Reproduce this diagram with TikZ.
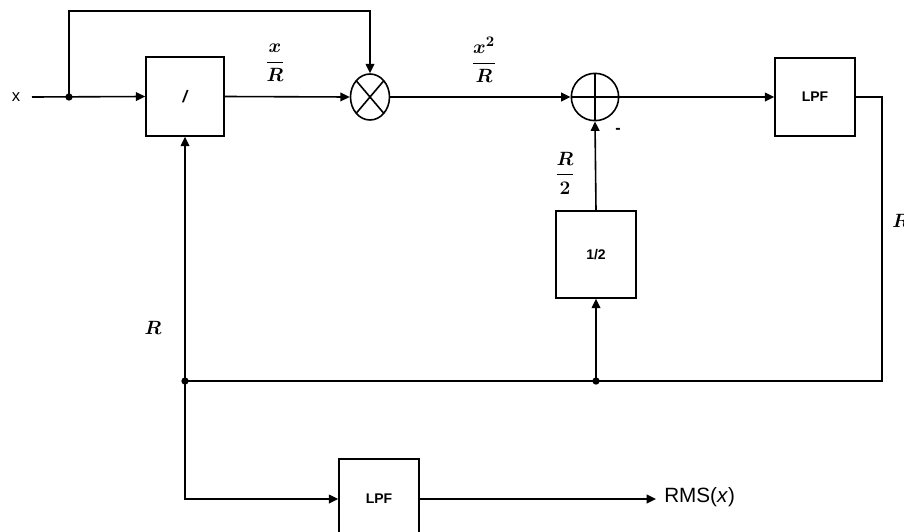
\documentclass[tikz,border=0pt]{standalone}
\usepackage{amsmath}
\usepackage{fontspec}
\setmainfont{Liberation Sans}
\usetikzlibrary{arrows.meta,calc,shapes.geometric}
\tikzset{
  blk/.style={draw, line width=1.2pt, inner sep=0pt, font=\fontsize{10.5}{12}\selectfont\bfseries},
  wire/.style={line width=1.2pt},
  arr/.style={line width=1.2pt, -{Triangle[length=7pt,width=6.5pt]}},
  junc/.style={circle, fill=black, inner sep=0pt, minimum size=5.5pt},
  mlab/.style={font=\fontsize{15}{18}\selectfont, inner sep=0pt},
}
\begin{document}
\begin{tikzpicture}[x=0.75pt,y=-0.75pt]
\useasboundingbox (0,0) rectangle (904,532);
\clip (0,0) rectangle (904,532);
% blocks
\node[blk, minimum width=58.5pt, minimum height=59.25pt] (div) at (185,96.5) {\fontsize{12.5}{14}\selectfont\itshape /};
\node[draw, line width=1.2pt, ellipse, minimum width=29.25pt, minimum height=34.5pt, inner sep=0pt] (mul) at (370,97) {};
\node[draw, line width=1.2pt, circle, minimum size=35.5pt, inner sep=0pt] (sum) at (595,97) {};
\node[blk, minimum width=60pt, minimum height=58.5pt] (lpf) at (815,97) {LPF};
\node[blk, minimum width=60pt, minimum height=65.25pt] (half) at (596,254.5) {1/2};
\node[blk, minimum width=60pt, minimum height=60pt] (lpfb) at (379,499) {LPF};
% cross and plus
\draw[wire] ($(mul)+(-13.8,-16.3)$) -- ($(mul)+(13.8,16.3)$);
\draw[wire] ($(mul)+(-13.8,16.3)$) -- ($(mul)+(13.8,-16.3)$);
\draw[wire] (sum.west) -- (sum.east);
\draw[wire] (sum.north) -- (sum.south);
% coordinates and junctions
\node[inner sep=0pt, font=\fontsize{12.5}{14}\selectfont] (xin) at (16,97) {x};
\coordinate (start) at (32,97);
\node[junc] (j0) at (69,97) {};
\coordinate (top) at (69,11);
\coordinate (rc) at (882,381);
\node[junc] (j2) at (596,381) {};
\node[junc] (j1) at (185,381) {};
\coordinate (outend) at (656,499);
\node[anchor=west, inner sep=0pt, font=\fontsize{15.5}{18}\selectfont] (rms) at (664,497) {RMS(\textit{x})};
% connectors
\draw[arr] (start) -- (div.west);
\draw[arr] (j0.center) -- (top) -| (mul.north);
\draw[arr] (div.east) -- (mul.west);
\draw[arr] (mul.east) -- (sum.west);
\draw[arr] (sum.east) -- (lpf.west);
\draw[wire] (lpf.east) -| (rc) -- (j2.center) -- (j1.center);
\draw[arr] (j2.center) -- (half.south);
\draw[arr] (half.north) -- (sum.south);
\draw[arr] (j1.center) -- (div.south);
\draw[arr] (j1.center) |- (lpfb.west);
\draw[arr] (lpfb.east) -- (outend);
% labels
\node[mlab] (l1) at (275,63) {$\boldsymbol{\dfrac{x}{R}}$};
\node[mlab] (l2) at (484,60) {$\boldsymbol{\dfrac{x^{2}}{R}}$};
\node[mlab] (l3) at (565,173) {$\boldsymbol{\dfrac{R}{2}}$};
\node[mlab] (l4) at (153,328) {$\boldsymbol{R}$};
\node[mlab, anchor=west] (l5) at (892,221) {$\boldsymbol{R}$};
\node[inner sep=0pt, font=\fontsize{12}{14}\selectfont\bfseries] (minus) at (618,131) {-};
\end{tikzpicture}
\end{document}
